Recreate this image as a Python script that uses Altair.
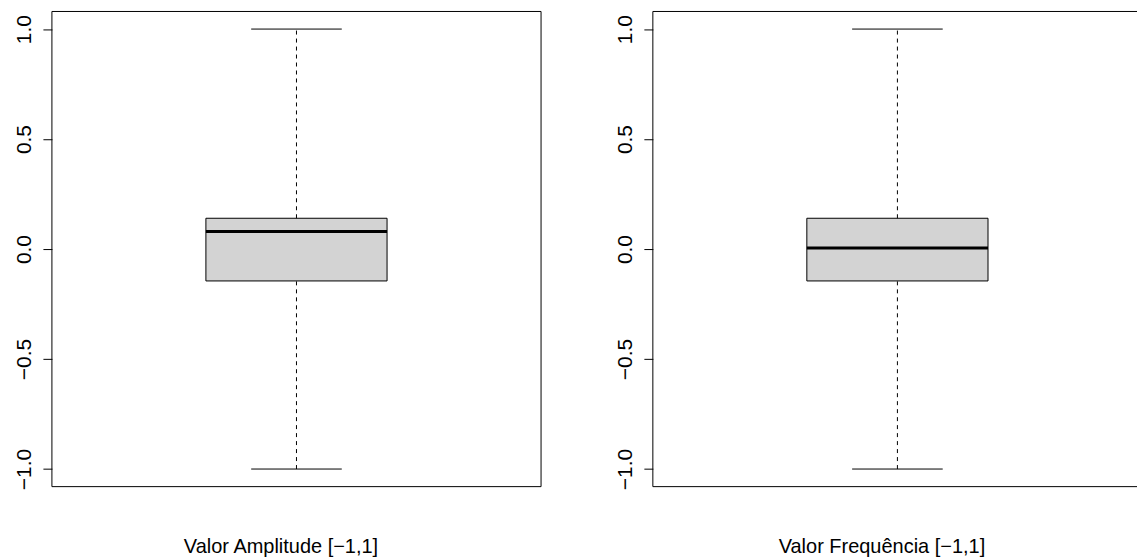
import altair as alt
import pandas as pd

# ---- data ----
titles = ["Valor Amplitude [−1,1]", "Valor Frequência [−1,1]"]
mins = [-1.0, -1.0]
q1s = [-0.145, -0.145]
medians = [0.08, 0.005]
q3s = [0.14, 0.14]
maxs = [1.0, 1.0]
positions = [1, 1]
y_ticks = [-1.0, -0.5, 0.0, 0.5, 1.0]

FONT = "Liberation Sans"
FS = 20
LFS = 21
H = 476


def panel(i, width, xmax, right_border):
    df = pd.DataFrame({
        "pos": [positions[i]], "lo": [mins[i]], "q1": [q1s[i]],
        "med": [medians[i]], "q3": [q3s[i]], "hi": [maxs[i]],
    })
    xs = alt.Scale(domain=[0.46, xmax], nice=False, zero=False)
    ys = alt.Scale(domain=[-1.08, 1.08], nice=False, zero=False)
    xaxis = alt.Axis(title=titles[i], ticks=False, labels=False, domain=False, grid=False,
                     titleFont=FONT, titleFontSize=FS, titleFontWeight="normal",
                     titleColor="black", titlePadding=50, titleX=229, titleAlign="center")
    yaxis = alt.Axis(title=None, values=y_ticks, format=".1f", grid=False, domain=False,
                     tickSize=9, tickColor="black", tickWidth=1,
                     labelAngle=270, labelAlign="center", labelBaseline="alphabetic",
                     labelPadding=12, labelFont=FONT, labelFontSize=LFS, labelColor="black")

    def X(f):
        return alt.X(f, type="quantitative", scale=xs, axis=xaxis)

    def Y(f):
        return alt.Y(f, type="quantitative", scale=ys, axis=yaxis)

    base = alt.Chart(df).transform_calculate(
        bl="datum.pos - 0.2", br="datum.pos + 0.2",
        cl="datum.pos - 0.1", cr="datum.pos + 0.1",
    )
    box = base.mark_rect(fill="#d3d3d3", stroke="black", strokeWidth=1).encode(
        x=X("bl"), x2="br:Q", y=Y("q1"), y2="q3:Q")
    med = base.mark_rule(color="black", strokeWidth=3).encode(
        x=X("bl"), x2="br:Q", y=Y("med"))
    wup = base.mark_rule(color="black", strokeWidth=1, strokeDash=[4, 4]).encode(
        x=X("pos"), y=Y("q3"), y2="hi:Q")
    wdn = base.mark_rule(color="black", strokeWidth=1, strokeDash=[4, 4]).encode(
        x=X("pos"), y=Y("lo"), y2="q1:Q")
    cap_hi = base.mark_rule(color="black", strokeWidth=1).encode(
        x=X("cl"), x2="cr:Q", y=Y("hi"))
    cap_lo = base.mark_rule(color="black", strokeWidth=1).encode(
        x=X("cl"), x2="cr:Q", y=Y("lo"))

    fr = alt.Chart(df)
    frames = [
        fr.mark_rule(color="black", strokeWidth=1).encode(
            x=alt.value(0), x2=alt.value(width), y=alt.value(0)),
        fr.mark_rule(color="black", strokeWidth=1).encode(
            x=alt.value(0), x2=alt.value(width), y=alt.value(H)),
        fr.mark_rule(color="black", strokeWidth=1).encode(
            x=alt.value(0), y=alt.value(0), y2=alt.value(H)),
    ]
    if right_border:
        frames.append(fr.mark_rule(color="black", strokeWidth=1).encode(
            x=alt.value(width), y=alt.value(0), y2=alt.value(H)))

    return alt.layer(box, wup, wdn, cap_hi, cap_lo, med, *frames).properties(
        width=width, height=H)


left = panel(0, 490, 1.54, True)
right = panel(1, 485, 0.46 + 485 / 453.7, False)

chart = alt.hconcat(left, right, spacing=72).properties(
    padding={"left": 13, "top": 10, "right": 0, "bottom": 0},
    background="white",
).configure_view(stroke=None)

chart.save("out.html", embed_options={"renderer": "svg", "actions": False})
